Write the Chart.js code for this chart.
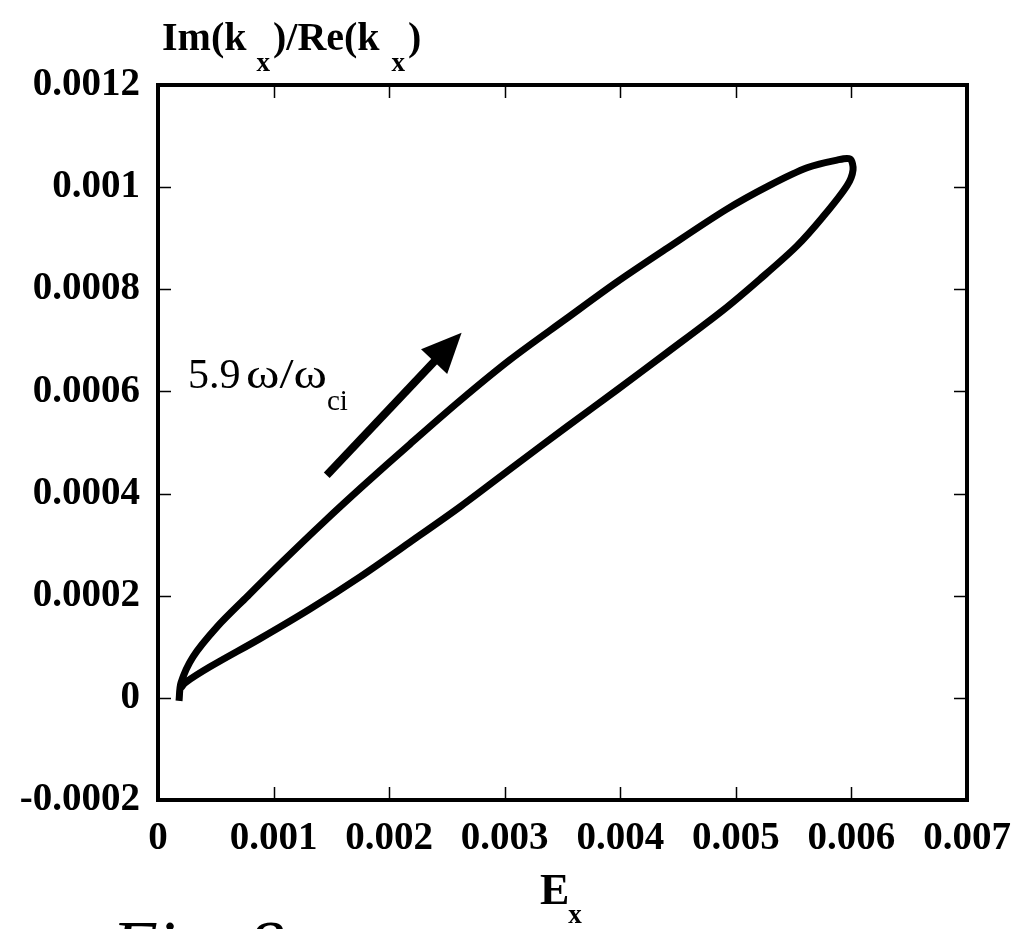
<!DOCTYPE html>
<html><head><meta charset="utf-8">
<script src="https://cdn.jsdelivr.net/npm/chart.js@4.4.0/dist/chart.umd.min.js"></script>
<style>html,body{margin:0;padding:0;background:#fff;overflow:hidden}#wrap{width:1016px;height:929px;position:relative}</style>
</head><body><div id="wrap"><canvas id="c" width="1016" height="929"></canvas></div>
<script>
// ---- data ----
const xTicks = [0, 0.001, 0.002, 0.003, 0.004, 0.005, 0.006, 0.007];
const xTickLabels = ['0', '0.001', '0.002', '0.003', '0.004', '0.005', '0.006', '0.007'];
const yTicks = [-0.0002, 0, 0.0002, 0.0004, 0.0006, 0.0008, 0.001, 0.0012];
const yTickLabels = ['-0.0002', '0', '0.0002', '0.0004', '0.0006', '0.0008', '0.001', '0.0012'];

// closed loop: upper branch (start at bottom) -> tip -> lower branch back to bottom
const curveX = [0.000182, 0.000199, 0.000303, 0.000511, 0.00077, 0.001082, 0.001428, 0.001774, 0.002181,
  0.002613, 0.003046, 0.00353, 0.003963, 0.004396, 0.004915, 0.005296, 0.005616, 0.005875, 0.005988,
  0.006014, 0.005962, 0.005754, 0.005529, 0.005209, 0.004889, 0.004404, 0.003972, 0.003539, 0.003106,
  0.002613, 0.002181, 0.001748, 0.001315, 0.000883, 0.00045, 0.000234, 0.000199];
const curveY = [-0.0000059, 0.0000294, 0.0000803, 0.000139, 0.000198, 0.000268, 0.000343, 0.000415, 0.000497,
  0.000582, 0.000662, 0.000742, 0.000813, 0.000879, 0.000956, 0.001004, 0.001038, 0.001053, 0.001055,
  0.001034, 0.001003, 0.000942, 0.000885, 0.00082, 0.000759, 0.000676, 0.000603, 0.000531, 0.000458,
  0.000374, 0.000305, 0.000237, 0.000174, 0.000116, 0.0000607, 0.0000294, 0.0000196];

const arrowX = [0.00146, 0.002627];
const arrowY = [0.000436, 0.000715];

const SERIF = '"Liberation Serif", "Times New Roman", serif';

const points = curveX.map((x, i) => ({x: x, y: curveY[i]}));

const decor = {
  id: 'decor',
  afterDraw(chart) {
    const ctx = chart.ctx;
    const a = chart.chartArea;
    const xs = chart.scales.x, ys = chart.scales.y;
    ctx.save();
    ctx.strokeStyle = '#000';
    ctx.fillStyle = '#000';
    // inward ticks on all four sides
    ctx.lineWidth = 1.5;
    const tl = 13;
    ctx.beginPath();
    xTicks.forEach(v => {
      const px = Math.round(xs.getPixelForValue(v)) + 0.5;
      ctx.moveTo(px, a.bottom); ctx.lineTo(px, a.bottom - tl);
      ctx.moveTo(px, a.top); ctx.lineTo(px, a.top + tl);
    });
    yTicks.forEach(v => {
      const py = Math.round(ys.getPixelForValue(v)) + 0.5;
      ctx.moveTo(a.left, py); ctx.lineTo(a.left + tl, py);
      ctx.moveTo(a.right, py); ctx.lineTo(a.right - tl, py);
    });
    ctx.stroke();
    // frame
    ctx.lineWidth = 4;
    ctx.strokeRect(a.left, a.top, a.right - a.left, a.bottom - a.top);

    // arrow
    const x0 = xs.getPixelForValue(arrowX[0]), y0 = ys.getPixelForValue(arrowY[0]);
    const x1 = xs.getPixelForValue(arrowX[1]), y1 = ys.getPixelForValue(arrowY[1]);
    const ang = Math.atan2(y1 - y0, x1 - x0);
    const hl = 40, hw = 18;
    const bx = x1 - hl * Math.cos(ang), by = y1 - hl * Math.sin(ang);
    ctx.lineWidth = 8;
    ctx.lineCap = 'butt';
    ctx.beginPath();
    ctx.moveTo(x0, y0);
    ctx.lineTo(bx + 4 * Math.cos(ang), by + 4 * Math.sin(ang));
    ctx.stroke();
    ctx.beginPath();
    ctx.moveTo(x1, y1);
    ctx.lineTo(bx + hw * Math.sin(ang), by - hw * Math.cos(ang));
    ctx.lineTo(bx - hw * Math.sin(ang), by + hw * Math.cos(ang));
    ctx.closePath();
    ctx.fill();

    // annotation text
    ctx.textBaseline = 'alphabetic';
    ctx.textAlign = 'left';
    ctx.font = '42px ' + SERIF;
    ctx.fillText('5.9', 188, 388);
    const om = '\u03C9/\u03C9';
    const ww = ctx.measureText(om).width;
    ctx.save();
    ctx.translate(246, 388);
    ctx.scale(81 / ww, 1);
    ctx.fillText(om, 0, 0);
    ctx.restore();
    ctx.font = '29px ' + SERIF;
    ctx.fillText('ci', 327, 410);

    // y axis title
    const big = 'bold 40px ' + SERIF, sub = 'bold 27px ' + SERIF;
    let cx = 162;
    ctx.font = big; ctx.fillText('Im(k', cx, 50); cx += ctx.measureText('Im(k').width + 10;
    ctx.font = sub; ctx.fillText('x', cx, 71); cx += ctx.measureText('x').width + 3;
    ctx.font = big; ctx.fillText(')/Re(k', cx, 50); cx += ctx.measureText(')/Re(k').width + 12;
    ctx.font = sub; ctx.fillText('x', cx, 71); cx += ctx.measureText('x').width + 3;
    ctx.font = big; ctx.fillText(')', cx, 50);

    // x axis title
    ctx.font = 'bold 44px ' + SERIF;
    ctx.fillText('E', 540, 904);
    const ew = ctx.measureText('E').width;
    ctx.font = sub;
    ctx.fillText('x', 540 + ew - 1, 923);

    // figure caption (cut at bottom)
    ctx.font = 'italic 72px ' + SERIF;
    ctx.fillText('Fig. 8', 112, 970);
    ctx.restore();
  }
};

new Chart(document.getElementById('c'), {
  type: 'scatter',
  data: {
    datasets: [{
      data: points,
      showLine: true,
      borderColor: '#000',
      borderWidth: 7,
      pointRadius: 0,
      tension: 0.3,
      borderCapStyle: 'butt',
      borderJoinStyle: 'miter',
      fill: false
    }]
  },
  options: {
    responsive: false,
    animation: false,
    devicePixelRatio: 1,
    layout: {padding: {top: 85, right: 49, left: 0, bottom: 0}},
    plugins: {legend: {display: false}, tooltip: {enabled: false}, title: {display: false}},
    scales: {
      x: {
        type: 'linear', min: 0, max: 0.007,
        afterBuildTicks: s => { s.ticks = xTicks.map(v => ({value: v})); },
        afterFit: s => { s.height = 129; s.paddingLeft = 0; s.paddingRight = 0; },
        ticks: {
          callback: (v, i) => xTickLabels[i],
          font: {family: SERIF, size: 39, weight: 'bold'},
          color: '#000', padding: 16, maxRotation: 0, autoSkip: false
        },
        grid: {display: false, drawTicks: false},
        border: {display: false}
      },
      y: {
        type: 'linear', min: -0.0002, max: 0.0012,
        afterBuildTicks: s => { s.ticks = yTicks.map(v => ({value: v})); },
        afterFit: s => { s.width = 158; s.paddingTop = 0; s.paddingBottom = 0; },
        ticks: {
          callback: (v, i) => yTickLabels[i],
          font: {family: SERIF, size: 39, weight: 'bold'},
          color: '#000', padding: 18, autoSkip: false
        },
        grid: {display: false, drawTicks: false},
        border: {display: false}
      }
    }
  },
  plugins: [decor]
});
</script>
</body></html>
